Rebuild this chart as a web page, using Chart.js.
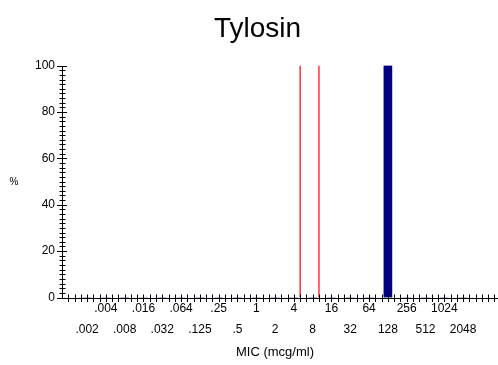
<!DOCTYPE html>
<html>
<head>
<meta charset="utf-8">
<script src="https://cdn.jsdelivr.net/npm/chart.js@4.4.1/dist/chart.umd.min.js"></script>
<style>
  html, body { margin: 0; padding: 0; background: #fff; overflow: hidden; }
  #wrap { width: 515px; height: 365px; }
</style>
</head>
<body>
<div id="wrap"><canvas id="mic" width="515" height="365"></canvas></div>
<script>
// Drug shown in the title
const drugName = 'Tylosin';

// Two-fold dilution series (label text and log2 of the concentration)
const dilutionLabels = ['.002', '.004', '.008', '.016', '.032', '.064', '.125', '.25', '.5', '1',
                        '2', '4', '8', '16', '32', '64', '128', '256', '512', '1024', '2048'];
const dilutionLog2 = [-9, -8, -7, -6, -5, -4, -3, -2, -1, 0,
                      1, 2, 3, 4, 5, 6, 7, 8, 9, 10, 11];

// Percentage of isolates at each MIC
const percentIsolates = [0, 0, 0, 0, 0, 0, 0, 0, 0, 0,
                         0, 0, 0, 0, 0, 0, 100, 0, 0, 0, 0];

// Breakpoint marker lines (log2 MIC positions)
const breakpointLog2 = [2.333, 3.333];

// Major ticks on the percentage axis
const percentTicks = [0, 20, 40, 60, 80, 100];

const fontFamily = '"Liberation Sans", Arial, sans-serif';

// Axis lines with ticks that cross them, plus the small axis captions
const axisFrame = {
  id: 'axisFrame',
  afterDatasetsDraw(chart) {
    const { ctx, scales: { x, y } } = chart;
    ctx.save();
    ctx.strokeStyle = '#000';
    ctx.lineWidth = 1;
    ctx.beginPath();
    const x0 = Math.round(x.getPixelForValue(x.min)) + 0.5;
    const xEnd = x.getPixelForValue(x.max);
    const y0 = Math.round(y.getPixelForValue(0)) + 0.5;
    const yTop = Math.round(y.getPixelForValue(100)) + 0.5;
    ctx.moveTo(x0, yTop);
    ctx.lineTo(x0, y0);
    ctx.lineTo(xEnd, y0);
    // three ticks per doubling step on the MIC axis
    for (let k = Math.ceil(x.min * 3 - 1e-6); k <= x.max * 3; k++) {
      const px = Math.round(x.getPixelForValue(k / 3)) + 0.5;
      ctx.moveTo(px, y0 - 4);
      ctx.lineTo(px, y0 + 3.5);
    }
    // minor tick every 2 %, longer tick every 20 %
    for (let v = 0; v <= 100; v += 2) {
      const py = Math.round(y.getPixelForValue(v)) + 0.5;
      const major = v % 20 === 0;
      ctx.moveTo(x0 - (major ? 5.5 : 3), py);
      ctx.lineTo(x0 + (major ? 4.5 : 3), py);
    }
    ctx.stroke();

    ctx.fillStyle = '#000';
    ctx.textAlign = 'center';
    ctx.textBaseline = 'middle';
    ctx.font = '13px ' + fontFamily;
    ctx.fillText('MIC (mcg/ml)', 275, 352);
    ctx.font = '10px ' + fontFamily;
    ctx.fillText('%', 14, 182);
    ctx.restore();
  }
};

new Chart(document.getElementById('mic'), {
  data: {
    datasets: [
      {
        type: 'bar',
        data: dilutionLog2.map((v, i) => ({ x: v, y: percentIsolates[i] })),
        backgroundColor: '#000080',
        borderWidth: 0,
        barThickness: 8,
        order: 2
      },
      ...breakpointLog2.map(b => ({
        type: 'line',
        data: [{ x: b, y: 0 }, { x: b, y: 100 }],
        borderColor: 'rgb(255, 0, 0)',
        backgroundColor: 'rgb(255, 0, 0)',
        borderWidth: 1.2,
        pointRadius: 0,
        fill: false,
        order: 1
      }))
    ]
  },
  options: {
    responsive: false,
    animation: false,
    devicePixelRatio: 1,
    layout: { padding: 0 },
    plugins: {
      legend: { display: false },
      tooltip: { enabled: false },
      title: {
        display: true,
        text: drugName,
        color: '#000',
        font: { family: fontFamily, size: 28, weight: 'normal', lineHeight: 1.2 },
        padding: { top: 12, bottom: 20 }
      }
    },
    scales: {
      x: {
        type: 'linear',
        offset: false,
        min: -10.333,
        max: 13.76,
        grid: { display: false, drawTicks: false, offset: false },
        border: { display: false },
        afterBuildTicks: s => { s.ticks = dilutionLog2.map(v => ({ value: v })); },
        afterFit: s => { s.height = 67.5; s.paddingLeft = 0; s.paddingRight = 0; },
        ticks: {
          autoSkip: false,
          maxRotation: 0,
          padding: 1,
          color: '#000',
          font: { family: fontFamily, size: 12, lineHeight: 1.75 },
          callback: v => {
            const lab = dilutionLabels[dilutionLog2.indexOf(v)];
            return v % 2 === 0 ? [lab, ''] : ['', lab];
          }
        }
      },
      y: {
        type: 'linear',
        min: 0,
        max: 100,
        grid: { display: false, drawTicks: false },
        border: { display: false },
        afterBuildTicks: s => { s.ticks = percentTicks.map(v => ({ value: v })); },
        afterFit: s => { s.width = 62; },
        ticks: {
          padding: 7,
          color: '#000',
          font: { family: fontFamily, size: 12 }
        }
      }
    }
  },
  plugins: [axisFrame]
});
</script>
</body>
</html>
